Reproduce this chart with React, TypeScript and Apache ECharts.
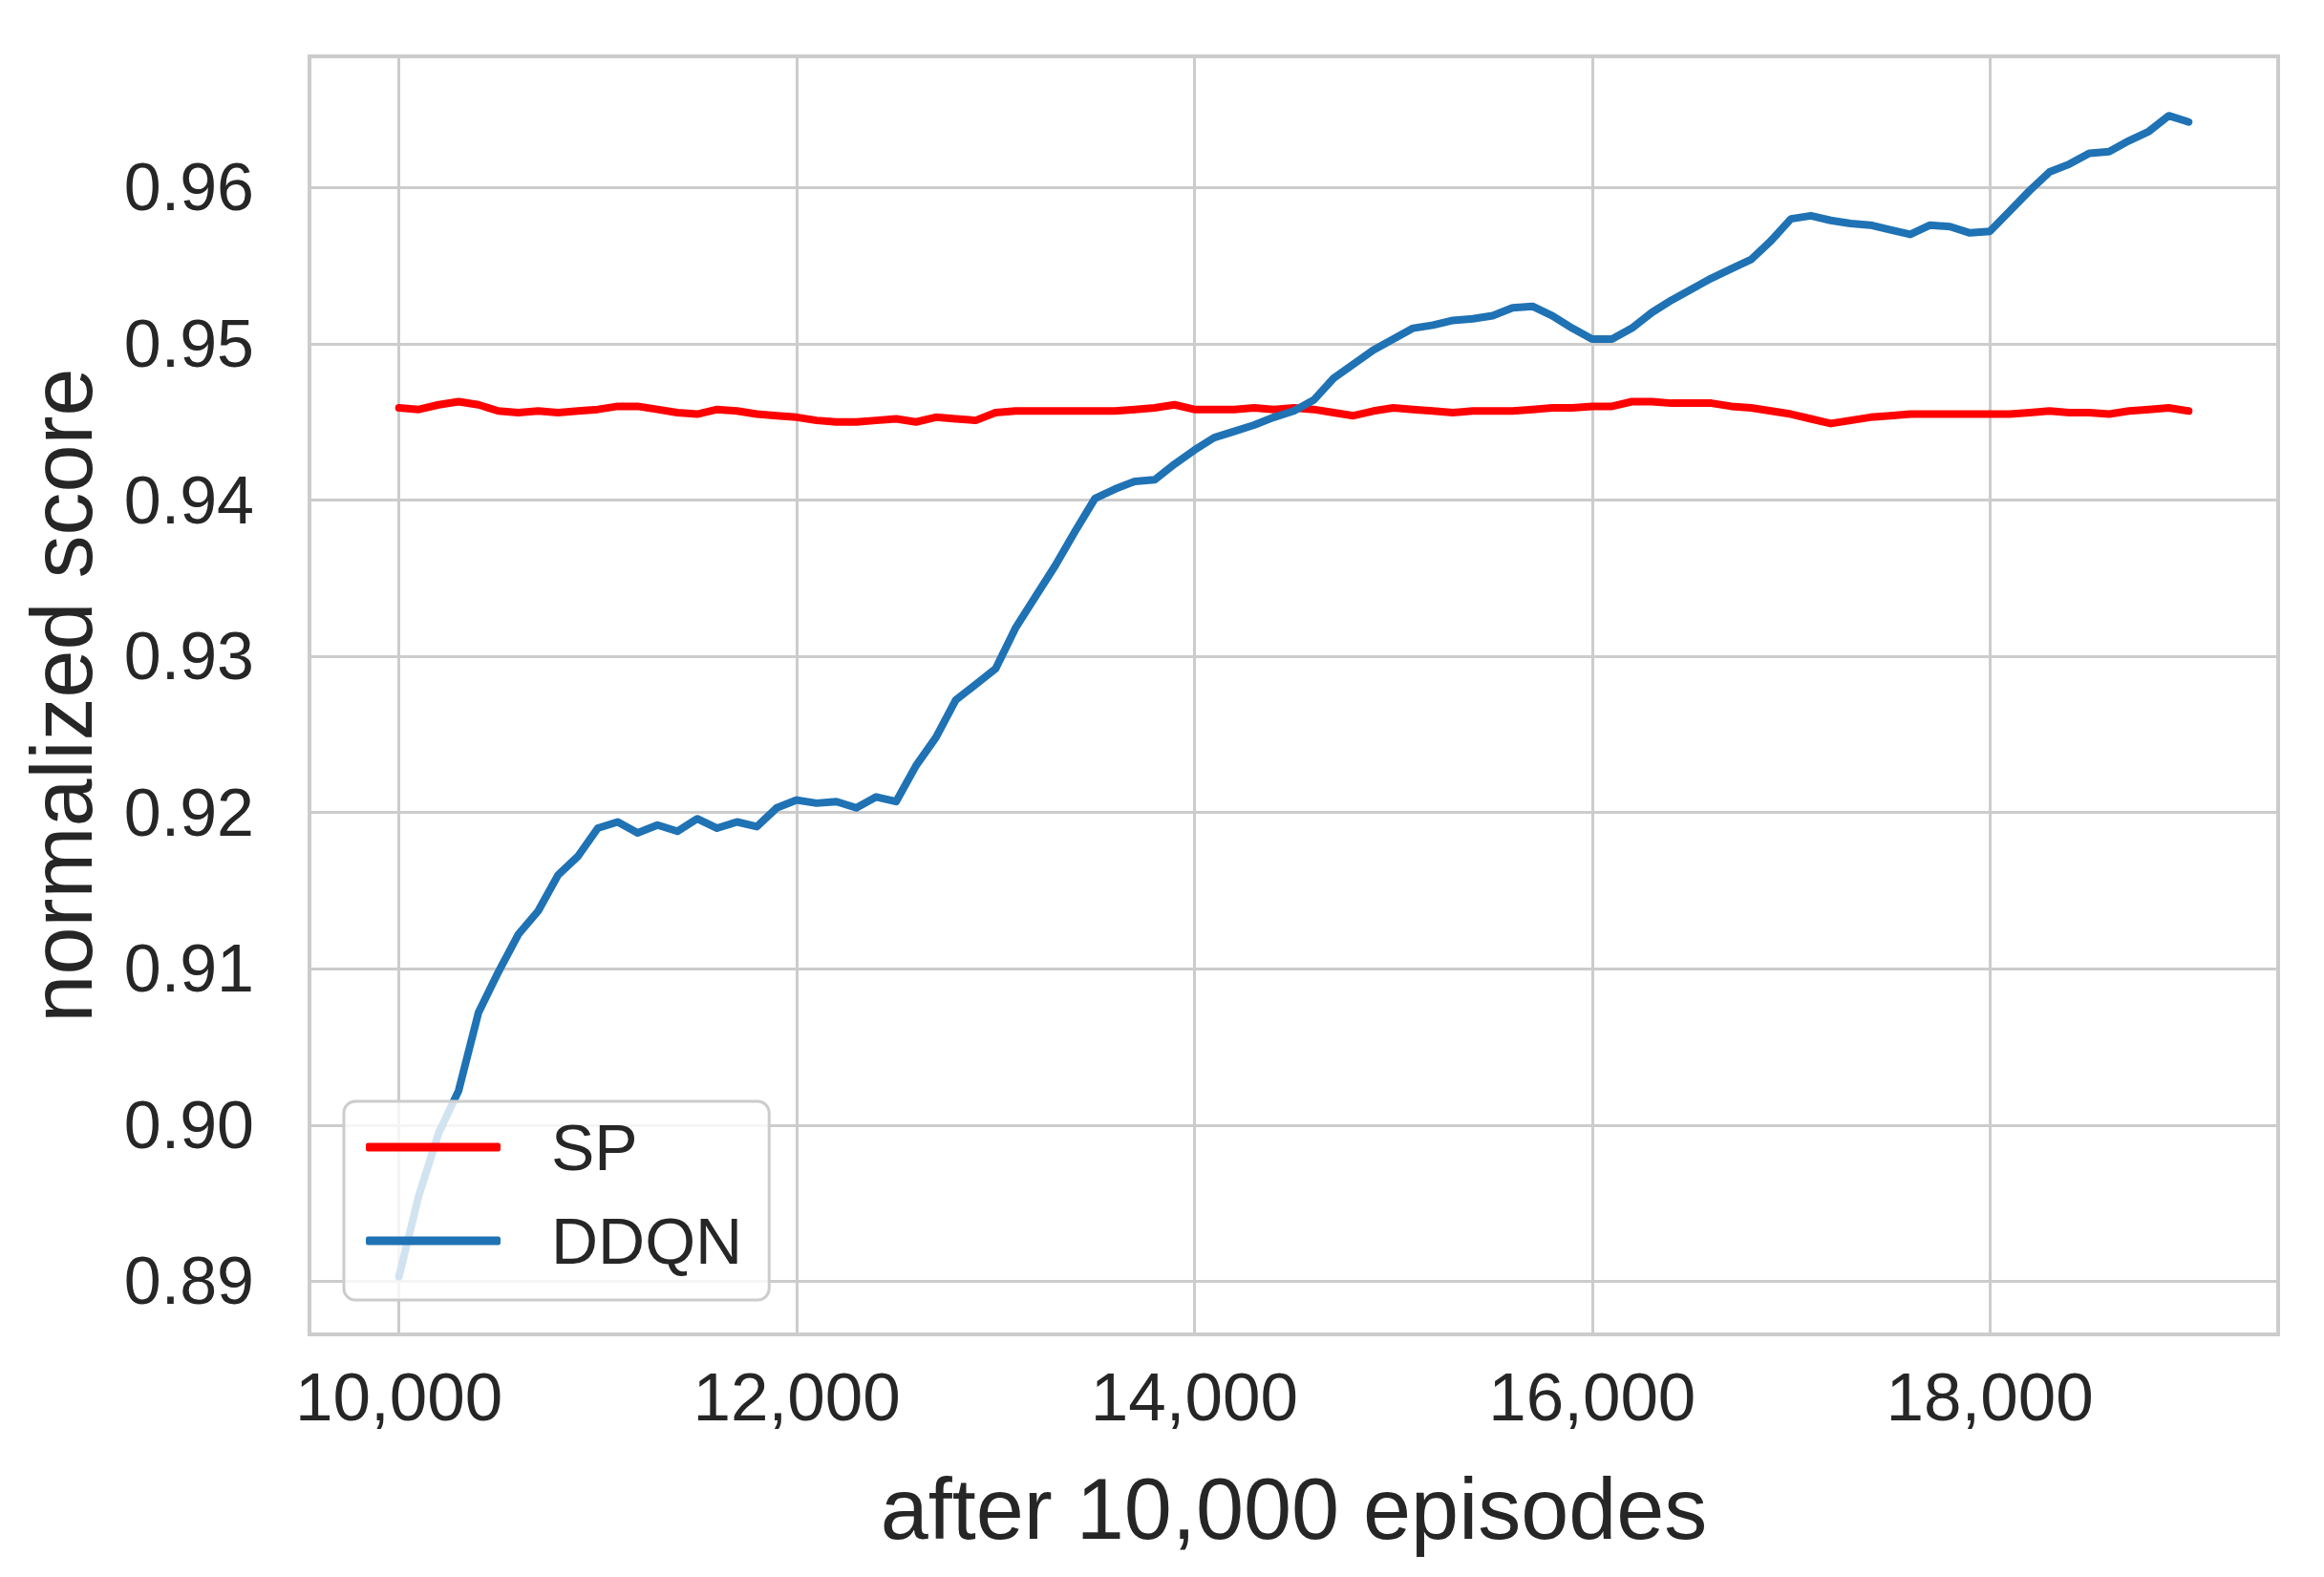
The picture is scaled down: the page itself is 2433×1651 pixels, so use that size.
import React, { useEffect, useRef } from "react";
import * as echarts from "echarts";

const episodes = [
  10000, 10100, 10200, 10300, 10400, 10500, 10600, 10700, 10800, 10900,
  11000, 11100, 11200, 11300, 11400, 11500, 11600, 11700, 11800, 11900,
  12000, 12100, 12200, 12300, 12400, 12500, 12600, 12700, 12800, 12900,
  13000, 13100, 13200, 13300, 13400, 13500, 13600, 13700, 13800, 13900,
  14000, 14100, 14200, 14300, 14400, 14500, 14600, 14700, 14800, 14900,
  15000, 15100, 15200, 15300, 15400, 15500, 15600, 15700, 15800, 15900,
  16000, 16100, 16200, 16300, 16400, 16500, 16600, 16700, 16800, 16900,
  17000, 17100, 17200, 17300, 17400, 17500, 17600, 17700, 17800, 17900,
  18000, 18100, 18200, 18300, 18400, 18500, 18600, 18700, 18800, 18900,
  19000,
];

const spValues = [
  0.9459, 0.9458, 0.9461, 0.9463, 0.9461, 0.9457, 0.9456, 0.9457, 0.9456, 0.9457,
  0.9458, 0.946, 0.946, 0.9458, 0.9456, 0.9455, 0.9458, 0.9457, 0.9455, 0.9454,
  0.9453, 0.9451, 0.945, 0.945, 0.9451, 0.9452, 0.945, 0.9453, 0.9452, 0.9451,
  0.9456, 0.9457, 0.9457, 0.9457, 0.9457, 0.9457, 0.9457, 0.9458, 0.9459, 0.9461,
  0.9458, 0.9458, 0.9458, 0.9459, 0.9458, 0.9459, 0.9458, 0.9456, 0.9454, 0.9457,
  0.9459, 0.9458, 0.9457, 0.9456, 0.9457, 0.9457, 0.9457, 0.9458, 0.9459, 0.9459,
  0.946, 0.946, 0.9463, 0.9463, 0.9462, 0.9462, 0.9462, 0.946, 0.9459, 0.9457,
  0.9455, 0.9452, 0.9449, 0.9451, 0.9453, 0.9454, 0.9455, 0.9455, 0.9455, 0.9455,
  0.9455, 0.9455, 0.9456, 0.9457, 0.9456, 0.9456, 0.9455, 0.9457, 0.9458, 0.9459,
  0.9457,
];

const ddqnValues = [
  0.8903, 0.8955, 0.8995, 0.9022, 0.9072, 0.9098, 0.9122, 0.9137, 0.916, 0.9172,
  0.919, 0.9194, 0.9187, 0.9192, 0.9188, 0.9196, 0.919, 0.9194, 0.9191, 0.9203,
  0.9208, 0.9206, 0.9207, 0.9203, 0.921, 0.9207, 0.923, 0.9248, 0.9272, 0.9282,
  0.9292, 0.9318, 0.9338, 0.9358, 0.938, 0.9401, 0.9407, 0.9412, 0.9413, 0.9423,
  0.9432, 0.944, 0.9444, 0.9448, 0.9453, 0.9457, 0.9464, 0.9478, 0.9487, 0.9496,
  0.9503, 0.951, 0.9512, 0.9515, 0.9516, 0.9518, 0.9523, 0.9524, 0.9518, 0.951,
  0.9503, 0.9503, 0.951, 0.952, 0.9528, 0.9535, 0.9542, 0.9548, 0.9554, 0.9566,
  0.958, 0.9582, 0.9579, 0.9577, 0.9576, 0.9573, 0.957, 0.9576, 0.9575, 0.9571,
  0.9572, 0.9585, 0.9598, 0.961, 0.9615, 0.9622, 0.9623, 0.963, 0.9636, 0.9646,
  0.9642,
];

const xTicks = [10000, 12000, 14000, 16000, 18000];
const yTicks = [0.89, 0.9, 0.91, 0.92, 0.93, 0.94, 0.95, 0.96];

const seriesNames = ["SP", "DDQN"];
const seriesColors = ["#ff0000", "#1f72b4"];

const FONT = "'Liberation Sans', Arial, sans-serif";
const TEXT = "#262626";
const GRID = "#cccccc";

export default function App() {
  const ref = useRef<HTMLDivElement>(null);

  useEffect(() => {
    if (!ref.current) return;
    const chart = echarts.init(ref.current, undefined, { renderer: "svg" });
    const sp = episodes.map((e, i) => [e, spValues[i]]);
    const dd = episodes.map((e, i) => [e, ddqnValues[i]]);
    chart.setOption({
      animation: false,
      backgroundColor: "#ffffff",
      textStyle: { fontFamily: FONT },
      grid: {
        left: 324,
        right: 48,
        top: 59,
        bottom: 254,
        show: true,
        borderColor: GRID,
        borderWidth: 4,
        backgroundColor: "transparent",
      },
      legend: {
        orient: "vertical",
        left: 360,
        top: 1153,
        data: seriesNames.map((n) => ({ name: n, icon: "roundRect" })),
        itemWidth: 141,
        itemHeight: 9,
        itemGap: 30,
        padding: [14, 28, 28, 23],
        backgroundColor: "rgba(255,255,255,0.8)",
        borderColor: GRID,
        borderWidth: 3,
        borderRadius: 12,
        textStyle: {
          fontFamily: FONT,
          fontSize: 68,
          color: TEXT,
          padding: [0, 0, 0, 48],
        },
      },
      xAxis: {
        type: "value",
        min: 9550,
        max: 19450,
        name: "after 10,000 episodes",
        nameLocation: "middle",
        nameGap: 138,
        nameTextStyle: { fontFamily: FONT, fontSize: 90, color: TEXT },
        axisLine: { show: false },
        axisTick: { show: false, customValues: xTicks },
        axisLabel: {
          customValues: xTicks,
          fontFamily: FONT,
          fontSize: 71,
          color: TEXT,
          margin: 30,
          formatter: (v: number) => v.toLocaleString("en-US"),
        },
        splitLine: { show: true, lineStyle: { color: GRID, width: 3 } },
      },
      yAxis: {
        type: "value",
        min: 0.8866,
        max: 0.9684,
        name: "normalized score",
        nameLocation: "middle",
        nameGap: 214,
        nameRotate: 90,
        nameTextStyle: { fontFamily: FONT, fontSize: 90, color: TEXT },
        axisLine: { show: false },
        axisTick: { show: false, customValues: yTicks },
        axisLabel: {
          customValues: yTicks,
          fontFamily: FONT,
          fontSize: 70,
          color: TEXT,
          margin: 58,
          formatter: (v: number) => v.toFixed(2),
        },
        splitLine: { show: true, lineStyle: { color: GRID, width: 3 } },
      },
      series: [
        {
          name: seriesNames[0],
          type: "line",
          data: sp,
          symbol: "none",
          color: seriesColors[0],
          lineStyle: { width: 8, color: seriesColors[0], join: "round", cap: "round" },
          z: 2,
        },
        {
          name: seriesNames[1],
          type: "line",
          data: dd,
          symbol: "none",
          color: seriesColors[1],
          lineStyle: { width: 8, color: seriesColors[1], join: "round", cap: "round" },
          z: 3,
        },
      ],
    });
    return () => chart.dispose();
  }, []);

  return <div ref={ref} style={{ width: 2433, height: 1651, margin: -8 }} />;
}
